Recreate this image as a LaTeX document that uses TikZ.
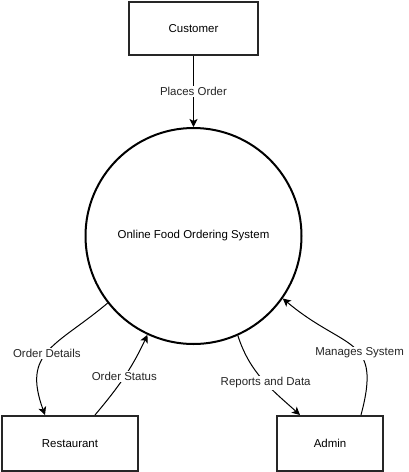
\documentclass[tikz,border=0pt]{standalone}
\usepackage{fontspec}
\setmainfont{Liberation Sans}
\usetikzlibrary{arrows.meta}
\begin{document}
\begin{tikzpicture}[x=0.75pt,y=-0.75pt,
  font=\fontsize{8.6pt}{10pt}\selectfont,
  box/.style={draw=black!85, line width=1.5pt, inner sep=0pt},
  proc/.style={circle, draw=black, line width=1.5pt, minimum size=162pt, inner sep=0pt},
  flow/.style={line width=0.75pt, -{Stealth[length=6pt,width=6pt,inset=1.5pt]}},
  lbl/.style={fill=white, inner sep=1pt, text=black!85}]
\useasboundingbox (0,0) rectangle (409,472);
\node[box, minimum width=96.75pt, minimum height=39.75pt] (cust) at (193.5,28.5) {Customer};
\node[proc] (sys) at (193.5,236) {Online Food Ordering System};
\node[box, minimum width=102pt, minimum height=41.25pt] (rest) at (70,443.5) {Restaurant};
\node[box, minimum width=79.5pt, minimum height=41.25pt] (admin) at (330,443.5) {Admin};

\draw[flow] (cust) -- node[lbl] {Places Order} (sys);
\draw[flow] (sys.218) to[out=-140, in=110, looseness=1.35] node[lbl, pos=0.52] {Order Details} ([xshift=-18.75pt]rest.north);
\draw[flow] ([xshift=18.75pt]rest.north) to[out=50, in=-115] node[lbl, pos=0.5] {Order Status} (sys.245);
\draw[flow] (sys.294) to[out=-72, in=138] node[lbl, pos=0.55] {Reports and Data} ([xshift=-22.5pt]admin.north);
\draw[flow] ([xshift=23.25pt]admin.north) to[out=75, in=-40, looseness=1.5] node[lbl, pos=0.42] {Manages System} (sys.325);
\end{tikzpicture}
\end{document}
